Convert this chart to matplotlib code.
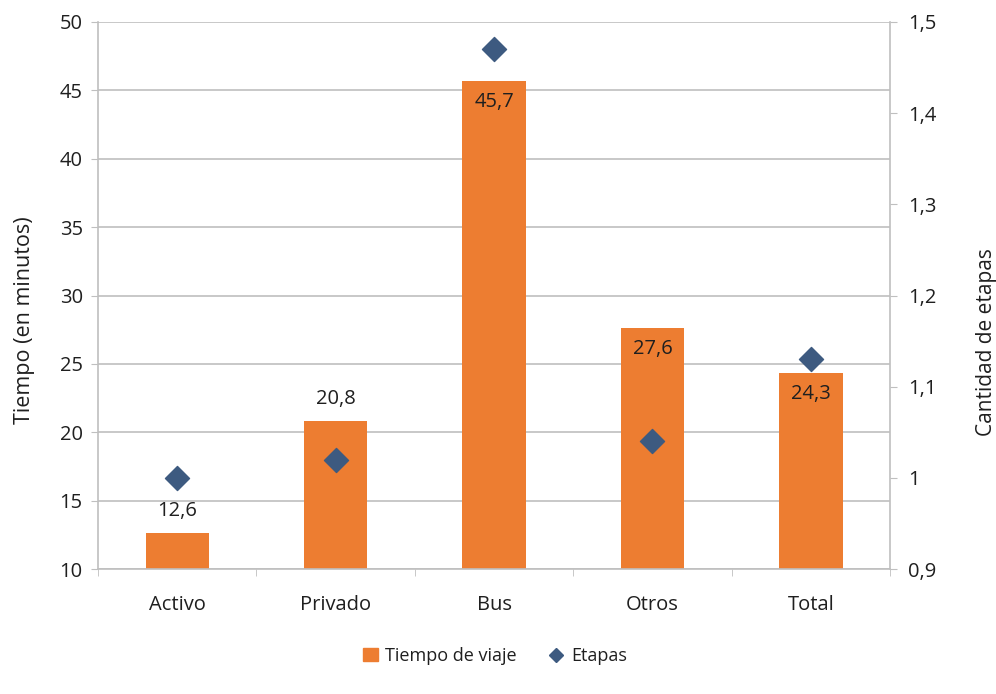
import numpy as np
import matplotlib.pyplot as plt
from matplotlib.lines import Line2D
from matplotlib.patches import Patch

categorias = ['Activo', 'Privado', 'Bus', 'Otros', 'Total']
tiempo = [12.6, 20.8, 45.7, 27.6, 24.3]
etapas = [1.00, 1.02, 1.47, 1.04, 1.13]
etiquetas = ['12,6', '20,8', '45,7', '27,6', '24,3']
dentro = [False, False, True, True, True]
ticks_der = ['0,9', '1', '1,1', '1,2', '1,3', '1,4', '1,5']

plt.rcParams['font.family'] = ['Open Sans', 'DejaVu Sans']
naranja = '#ED7D31'
azul = '#3D5A80'
gris = '#BFBFBF'
texto = '#1F1F1F'
fs = 14.5

fig = plt.figure(figsize=(9.96, 6.94), dpi=100)
ax = fig.add_axes([0.0984, 0.1801, 0.7952, 0.7882])
x = np.arange(len(categorias))

ax.bar(x, tiempo, width=0.4, color=naranja, zorder=2)
for xi, v, lab, inn in zip(x, tiempo, etiquetas, dentro):
    if inn:
        ax.text(xi, v - 0.8, lab, ha='center', va='top', fontsize=fs, color=texto, zorder=4)
    else:
        ax.text(xi, v + 0.9, lab, ha='center', va='bottom', fontsize=fs, color=texto, zorder=4)

ax.set_ylim(10, 50)
ax.set_xlim(-0.5, len(categorias) - 0.5)
ax.set_yticks(np.arange(10, 51, 5))
ax.set_xticks(x)
ax.set_xticklabels(categorias)
ax.set_xticks(np.arange(-0.5, len(categorias), 1), minor=True)
ax.tick_params(axis='x', which='major', length=0, pad=19, labelsize=fs, labelcolor=texto)
ax.tick_params(axis='x', which='minor', length=5, color=gris, direction='out')
ax.tick_params(axis='y', length=5, color=gris, labelsize=fs, labelcolor=texto, pad=6)
ax.grid(axis='y', color=gris, linewidth=1.2, zorder=0)
ax.set_axisbelow(True)
for s in ['top', 'right']:
    ax.spines[s].set_visible(False)
for s in ['left', 'bottom']:
    ax.spines[s].set_color(gris)
    ax.spines[s].set_linewidth(1.2)
ax.set_ylabel('Tiempo (en minutos)', fontsize=15.5, color=texto)
ax.yaxis.set_label_coords(-0.079, 0.455)

ax2 = ax.twinx()
ax2.scatter(x, etapas, marker='D', s=150, color=azul, zorder=5)
ax2.set_ylim(0.9, 1.5)
ax2.set_yticks(np.linspace(0.9, 1.5, 7))
ax2.set_yticklabels(ticks_der)
ax2.tick_params(axis='y', length=5, color=gris, labelsize=fs, labelcolor=texto, pad=8)
for s in ['top', 'left', 'bottom']:
    ax2.spines[s].set_visible(False)
ax2.spines['right'].set_color(gris)
ax2.spines['right'].set_linewidth(1.2)
ax2.set_ylabel('Cantidad de etapas', fontsize=15, color=texto, rotation=90)
ax2.yaxis.set_label_coords(1.109, 0.415)

handles = [Patch(color=naranja, label='Tiempo de viaje'),
           Line2D([], [], marker='D', color=azul, linestyle='', markersize=7, label='Etapas')]
fig.legend(handles=handles, loc='center', bbox_to_anchor=(0.497, 0.055), ncol=2, frameon=False,
           fontsize=13, handlelength=0.8, handletextpad=0.4, columnspacing=1.8, labelcolor=texto)

fig.savefig('out.png', dpi=100)
